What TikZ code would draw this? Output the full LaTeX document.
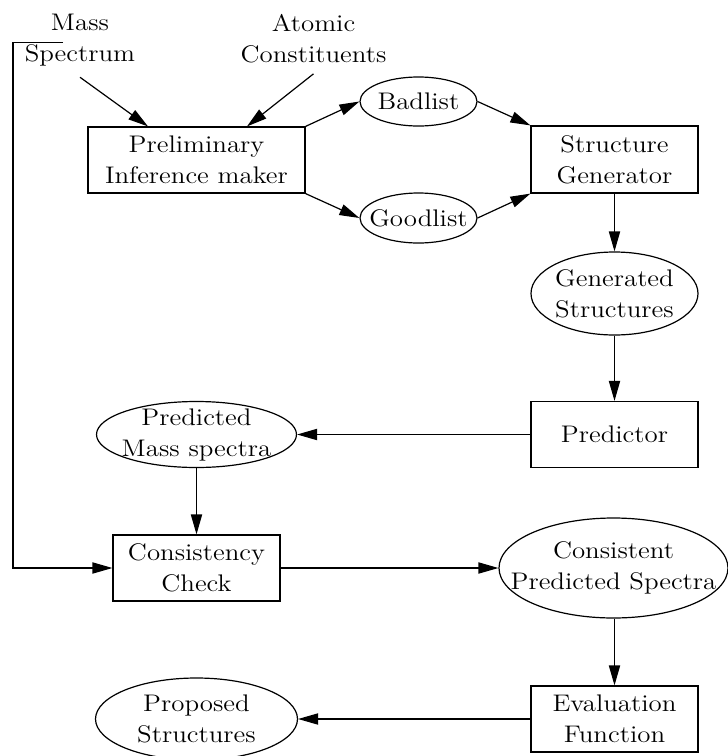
\documentclass[tikz,border=0pt]{standalone}
\usepackage{fontspec}
\setmainfont{Latin Modern Roman}[FakeStretch=1.12]
\usetikzlibrary{arrows.meta,shapes.geometric}
\begin{document}
\begin{tikzpicture}[x=0.5pt,y=-0.5pt,
  font=\fontsize{12}{15.5}\selectfont,
  line width=0.6pt,
  every node/.style={align=center},
  box/.style={draw, rectangle, inner sep=0pt},
  oval/.style={draw, ellipse, inner sep=0pt},
  caption/.style={inner sep=5pt, anchor=north},
  flow/.style={-{Triangle[length=10pt,width=5.6pt]}},
]
\useasboundingbox (0,0) rectangle (728,756);

% inputs
\node[caption] (ms) at (80,4) {Mass\\Spectrum};
\node[caption] (ac) at (313.5,4) {Atomic\\Constituents};

% processing boxes
\node[box, minimum width=108.5pt, minimum height=33pt] (pim) at (196.5,160) {Preliminary\\Inference maker};
\node[box, minimum width=83.5pt, minimum height=33.5pt] (sg) at (614.5,159.5) {Structure\\Generator};
\node[box, minimum width=83.5pt, minimum height=33pt] (pred) at (614.5,434.5) {Predictor};
\node[box, minimum width=83.5pt, minimum height=33pt] (cc) at (196.5,568) {Consistency\\Check};
\node[box, minimum width=83.5pt, minimum height=33pt] (ef) at (614.5,719) {Evaluation\\Function};

% data ellipses (outline first, text on top)
\node[oval, minimum width=58.5pt, minimum height=24.5pt] (bad) at (418.5,101.5) {};
\node (bad-t) at (bad) {Badlist};
\node[oval, minimum width=58.5pt, minimum height=25pt] (good) at (418.5,218) {};
\node (good-t) at (good) {Goodlist};
\node[oval, minimum width=83.5pt, minimum height=41.5pt] (gs) at (614.5,293.5) {};
\node (gs-t) at (gs) {Generated\\Structures};
\node[oval, minimum width=100pt, minimum height=33pt] (pms) at (196.5,434.5) {};
\node (pms-t) at (pms) {Predicted\\Mass spectra};
\node[oval, minimum width=114.5pt, minimum height=50pt] (cps) at (613.5,568) {};
\node (cps-t) at (cps) {Consistent\\Predicted Spectra};
\node[oval, minimum width=101pt, minimum height=41pt] (ps) at (196.5,719) {};
\node (ps-t) at (ps) {Proposed\\Structures};

% connectors
\coordinate (rail) at (13,400);
\draw[flow] (ms.south) -- ([xshift=-24.25pt]pim.north);
\draw[flow] (ac.south) -- ([xshift=25.25pt]pim.north);
\draw[flow] ([xshift=-8.5pt,yshift=-0.75pt]ms.center) -| (rail) |- (cc.west);
\draw[flow] (pim.north east) -- (bad.west);
\draw[flow] (pim.south east) -- (good.west);
\draw[flow] (bad.east) -- (sg.north west);
\draw[flow] (good.east) -- (sg.south west);
\draw[flow] (sg.south) -- (gs.north);
\draw[flow] (gs.south) -- (pred.north);
\draw[flow] (pred.west) -- (pms.east);
\draw[flow] (pms.south) -- (cc.north);
\draw[flow] (cc.east) -- (cps.west);
\draw[flow] (cps.south -| ef.north) -- (ef.north);
\draw[flow] (ef.west) -- (ps.east);
\end{tikzpicture}
\end{document}
